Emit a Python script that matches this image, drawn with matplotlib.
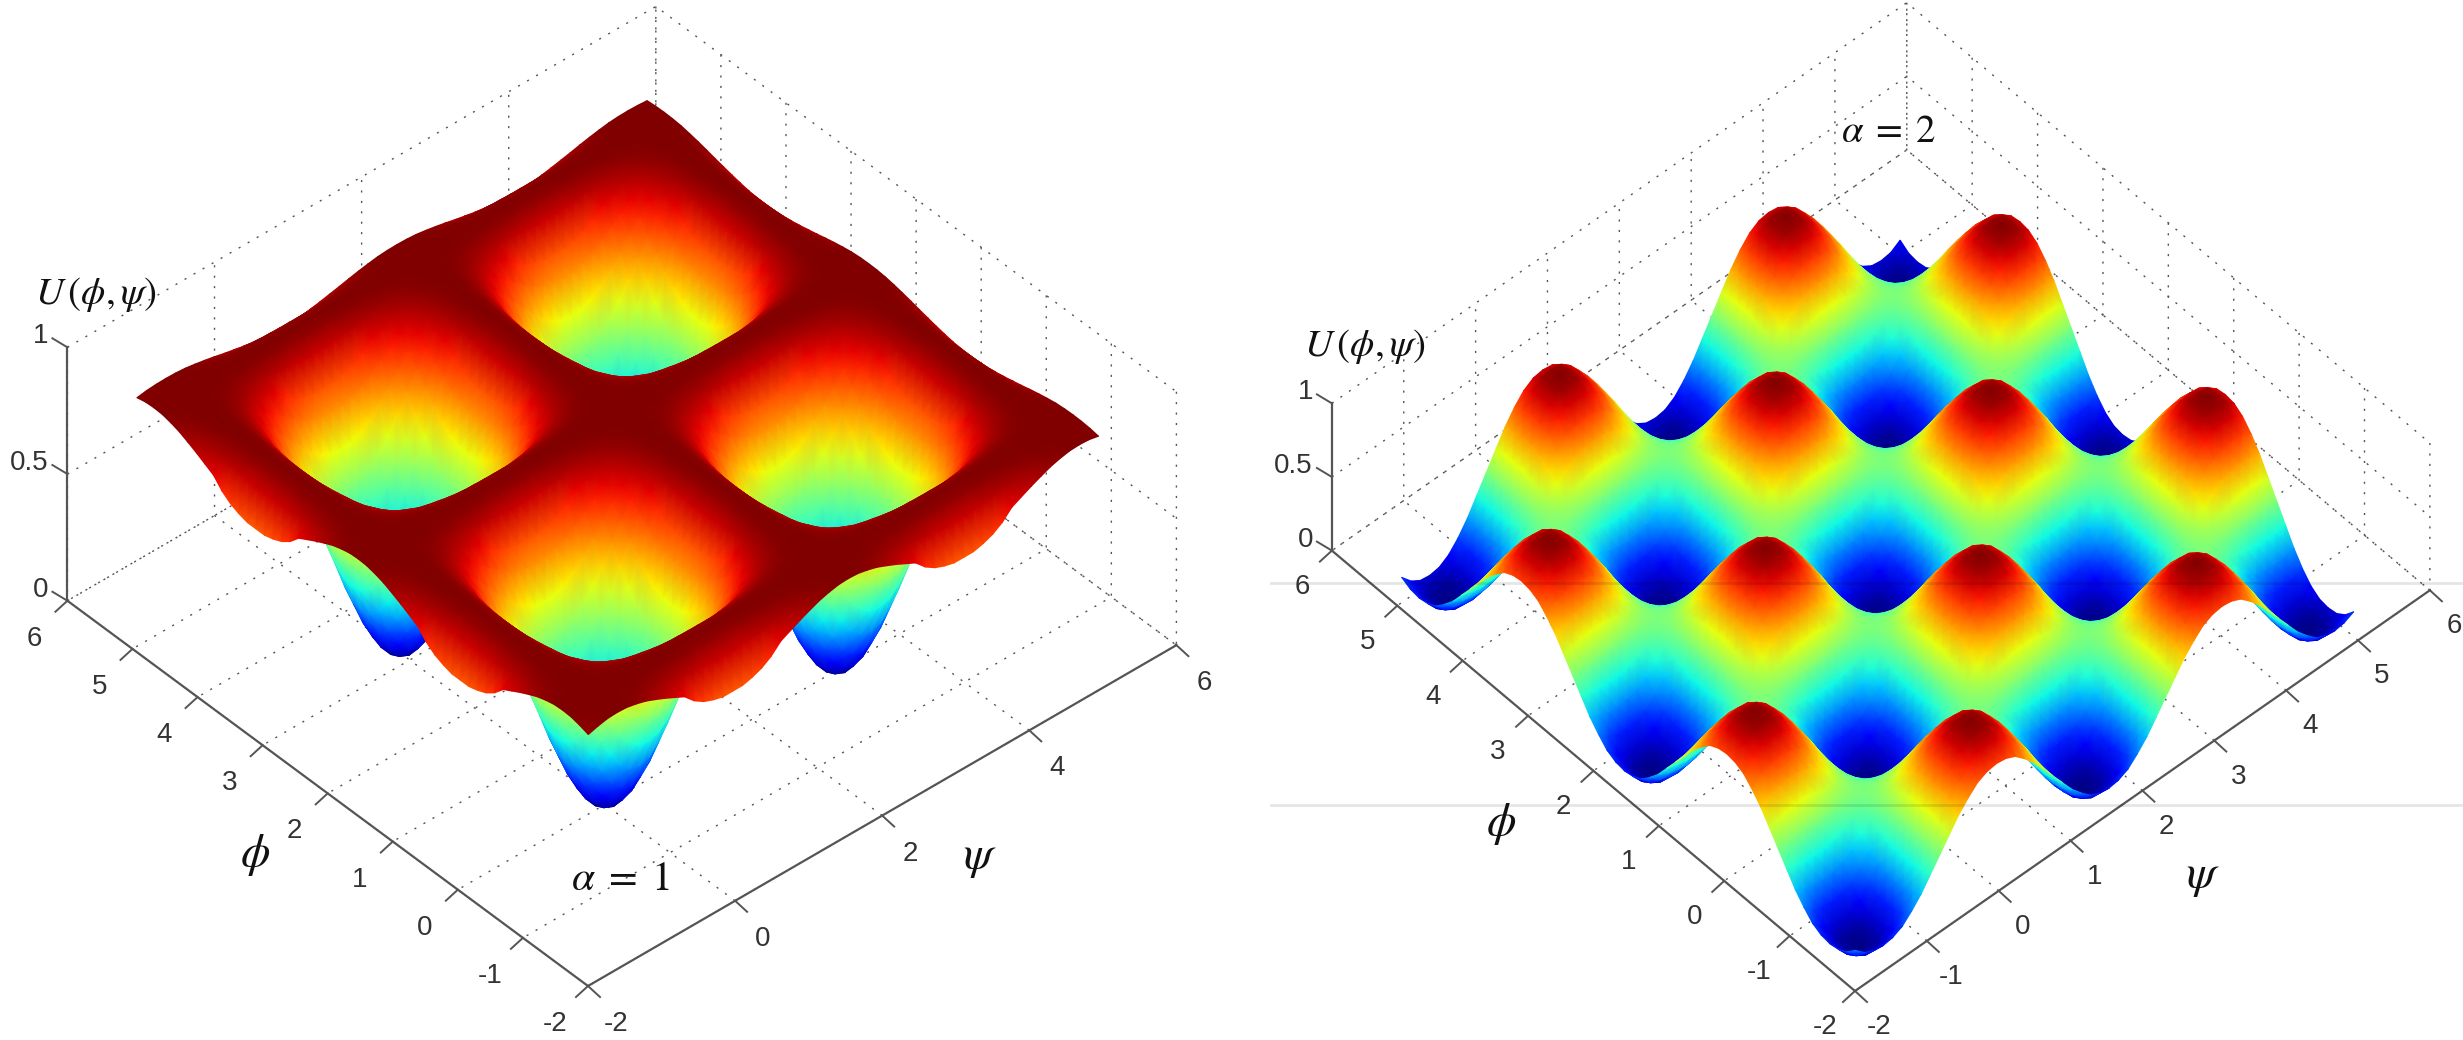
#!/usr/bin/env python3
"""Two U(phi, psi) surfaces, alpha = 1 and alpha = 2, in a MATLAB-like 3D box."""
import matplotlib
matplotlib.use("Agg")
import matplotlib.pyplot as plt
import numpy as np
from mpl_toolkits.mplot3d import proj3d

W, H = 2463, 1040
plt.rcParams.update({"font.family": "Liberation Sans", "mathtext.fontset": "stix",
                     "grid.color": "#555555", "grid.linewidth": 1.0,
                     "grid.linestyle": (0, (1.5, 6))})

# one cell of each surface, well centre to far corner, mirrored to fill the domain
# not read point by point: hand-worked smooth well shape, fitted to measured well
# positions, corner heights and colour bands in the picture
u_alpha1 = np.array([
    [0, .017, .067, .146, .25, .371, .5, .629, .75, .82, .933, .983, 1],
    [.017, .034, .083, .161, .263, .382, .508, .635, .754, .82, .934, .983, 1],
    [.067, .083, .13, .203, .3, .413, .533, .654, .767, .83, .937, .984, 1],
    [.146, .161, .203, .271, .36, .463, .573, .683, .786, .845, .943, .985, 1],
    [.25, .263, .3, .36, .438, .528, .625, .722, .812, .87, .95, .987, 1],
    [.371, .382, .413, .463, .528, .604, .685, .767, .843, .908, .958, .989, 1],
    [.5, .508, .533, .573, .625, .685, .75, .814, .875, .927, .966, .991, 1],
    [.629, .635, .654, .683, .722, .767, .814, .862, .907, .946, .975, .994, 1],
    [.75, .754, .767, .786, .812, .843, .875, .907, .937, .963, .983, .996, 1],
    [.82, .82, .83, .845, .87, .908, .927, .946, .963, .979, .99, .998, 1],
    [.933, .934, .937, .943, .95, .958, .966, .975, .983, .99, .996, .999, 1],
    [.983, .983, .984, .985, .987, .989, .991, .994, .996, .998, .999, 1, 1],
    [1, 1, 1, 1, 1, 1, 1, 1, 1, 1, 1, 1, 1]])
u_alpha2 = np.array([
    [0, .02, .07, .15, .25, .37, .5, .63, .75, .85, .93, .98, 1],
    [.02, .03, .08, .16, .26, .37, .5, .63, .74, .84, .92, .97, .98],
    [.07, .08, .12, .19, .28, .39, .5, .61, .72, .81, .88, .92, .93],
    [.15, .16, .19, .25, .32, .41, .5, .59, .68, .75, .81, .84, .85],
    [.25, .26, .28, .32, .38, .44, .5, .56, .63, .68, .72, .74, .75],
    [.37, .37, .39, .41, .44, .47, .5, .53, .56, .59, .61, .63, .63],
    [.5, .5, .5, .5, .5, .5, .5, .5, .5, .5, .5, .5, .5],
    [.63, .63, .61, .59, .56, .53, .5, .47, .44, .41, .39, .37, .37],
    [.75, .74, .72, .68, .63, .56, .5, .44, .38, .32, .28, .26, .25],
    [.85, .84, .81, .75, .68, .59, .5, .41, .32, .25, .19, .16, .15],
    [.93, .92, .88, .81, .72, .61, .5, .39, .28, .19, .12, .08, .07],
    [.98, .97, .92, .84, .74, .63, .5, .37, .26, .16, .08, .03, .02],
    [1, .98, .93, .85, .75, .63, .5, .37, .25, .15, .07, .02, 0]])
cell_step = 0.1309
phi_ticks = [-2, -1, 0, 1, 2, 3, 4, 5, 6]
psi_ticks_a1 = [-2, 0, 2, 4, 6]
psi_ticks_a2 = [-2, -1, 0, 1, 2, 3, 4, 5, 6]
z_ticks = [0, 0.5, 1]
z_labels = ["0", "0.5", "1"]

fig = plt.figure(figsize=(W/100, H/100), dpi=100, facecolor="white")
# surface layer sits over the 3D boxes, labels over that; both in reference pixels
mesh = fig.add_axes([0, 0, 1, 1], zorder=3)
over = fig.add_axes([0, 0, 1, 1], zorder=5)
for a in (mesh, over):
    a.set_xlim(0, W); a.set_ylim(H, 0); a.axis("off")


def to_px(ax, x, y, z):
    shape = np.shape(x)
    xs, ys, _ = proj3d.proj_transform(np.ravel(x), np.ravel(y), np.ravel(z), ax.get_proj())
    px = ax.transData.transform(np.column_stack([xs, ys]))
    return px[:, 0].reshape(shape), H - px[:, 1].reshape(shape)


def place(ax, front, left, right):
    # fit the square 3D axes so that the floor corners land on the reference pixels
    size, cx, cy = 1000.0, W/2, H/2
    for _ in range(3):
        ax.set_position([(cx-size/2)/W, 1-(cy+size/2)/H, size/W, size/H])
        ax.apply_aspect()
        l = to_px(ax, -2, 6, 0); r = to_px(ax, 6, -2, 0)
        size *= (right[0]-left[0]) / (r[0]-l[0])
        ax.set_position([(cx-size/2)/W, 1-(cy+size/2)/H, size/W, size/H])
        ax.apply_aspect()
        f = to_px(ax, -2, -2, 0)
        cx += front[0]-f[0]; cy += front[1]-f[1]
    ax.set_position([(cx-size/2)/W, 1-(cy+size/2)/H, size/W, size/H])
    ax.apply_aspect()


def panel(table, psi_ticks, elev, azim, aspect, corners):
    ax = fig.add_axes([0.1, 0.1, 0.3, 0.3], projection="3d", proj_type="ortho", zorder=1)
    ax.patch.set_alpha(0)
    ax.view_init(elev=elev, azim=azim)
    ax.set_box_aspect(aspect)
    ax.set_xlim(-2, 6, view_margin=0); ax.set_ylim(-2, 6, view_margin=0); ax.set_zlim(0, 1, view_margin=0)
    ax.set_xticks(psi_ticks); ax.set_yticks(phi_ticks); ax.set_zticks(z_ticks)
    ax.set_xticklabels([]); ax.set_yticklabels([]); ax.set_zticklabels([])
    ax.tick_params(axis="both", color=(0, 0, 0, 0))
    for axis in (ax.xaxis, ax.yaxis, ax.zaxis):
        axis.line.set_visible(False)
        axis.set_pane_color((1, 1, 1, 0))
        axis.pane.set_edgecolor("#555555")
        axis.pane.set_linestyle((0, (1.5, 6)))
        axis.pane.set_linewidth(1.0)
    place(ax, *corners)

    # far rows first, so the mesh paints back to front and near rims hide what is behind
    steps = np.arange(38, -16, -1)
    folded = np.abs((steps + 12) % 24 - 12)
    grid = steps * cell_step
    X, Y = np.meshgrid(grid, grid)
    Z = table[np.ix_(folded, folded)]
    px, py = to_px(ax, X, Y, Z)
    mesh.pcolormesh(px, py, Z, cmap="jet", vmin=0, vmax=1, shading="gouraud")
    mesh.set_xlim(0, W); mesh.set_ylim(H, 0)
    return ax


def decorate(ax, psi_ticks, lab_phi, lab_psi, lab_z):
    AC = "#555555"
    f = to_px(ax, -2, -2, 0); l = to_px(ax, -2, 6, 0); r = to_px(ax, 6, -2, 0)
    t = to_px(ax, -2, 6, 1)
    over.plot([l[0], f[0], r[0]], [l[1], f[1], r[1]], color=AC, lw=1.6)
    over.plot([l[0], t[0]], [l[1], t[1]], color=AC, lw=1.6)
    for v in phi_ticks:
        p = to_px(ax, -2, v, 0)
        over.plot([p[0], p[0]-12], [p[1], p[1]+11], color=AC, lw=1.4)
        over.text(p[0]+lab_phi[0], p[1]+lab_phi[1], str(v), fontsize=20, color="#333333",
                  ha="center", va="center")
    for v in psi_ticks:
        p = to_px(ax, v, -2, 0)
        over.plot([p[0], p[0]+12], [p[1], p[1]+11], color=AC, lw=1.4)
        over.text(p[0]+lab_psi[0], p[1]+lab_psi[1], str(v), fontsize=20, color="#333333",
                  ha="center", va="center")
    for v, s in zip(z_ticks, z_labels):
        p = to_px(ax, -2, 6, v)
        over.plot([p[0], p[0]-15], [p[1], p[1]-9], color=AC, lw=1.4)
        over.text(p[0]-19, p[1]+lab_z, s, fontsize=20, color="#333333", ha="right", va="center")


ax1 = panel(u_alpha1, psi_ticks_a1, 40.9, -131.5, (785, 785, 335),
            ((588, 986), (67, 601), (1176, 645)))
ax2 = panel(u_alpha2, psi_ticks_a2, 50.0, -132.3, (777, 777, 229),
            ((1855, 991), (1332, 552), (2430, 590)))
decorate(ax1, psi_ticks_a1, (-33, 38), (28, 38), -11)
decorate(ax2, psi_ticks_a2, (-30, 36), (24, 36), -11)

# faint scan lines across the right panel
for yy in (583, 805):
    over.plot([1271, W], [yy, yy], color="black", alpha=0.10, lw=2)
over.set_xlim(0, W); over.set_ylim(H, 0)

MF = dict(ha="center", va="center", color="#111111")
over.text(96, 295, r"$U\,(\phi,\psi)$", fontsize=28, **MF)
over.text(1365, 346, r"$U\,(\phi,\psi)$", fontsize=28, **MF)
over.text(620, 879, r"$\alpha\;=\;1$", fontsize=30, **MF)
over.text(1889, 132, r"$\alpha\;=\;2$", fontsize=28, **MF)
over.text(255, 855, r"$\phi$", fontsize=34, **MF)
over.text(980, 858, r"$\psi$", fontsize=34, **MF)
over.text(1501, 824, r"$\phi$", fontsize=34, **MF)
over.text(2203, 877, r"$\psi$", fontsize=34, **MF)

fig.savefig("out.png", dpi=100, facecolor="white")
